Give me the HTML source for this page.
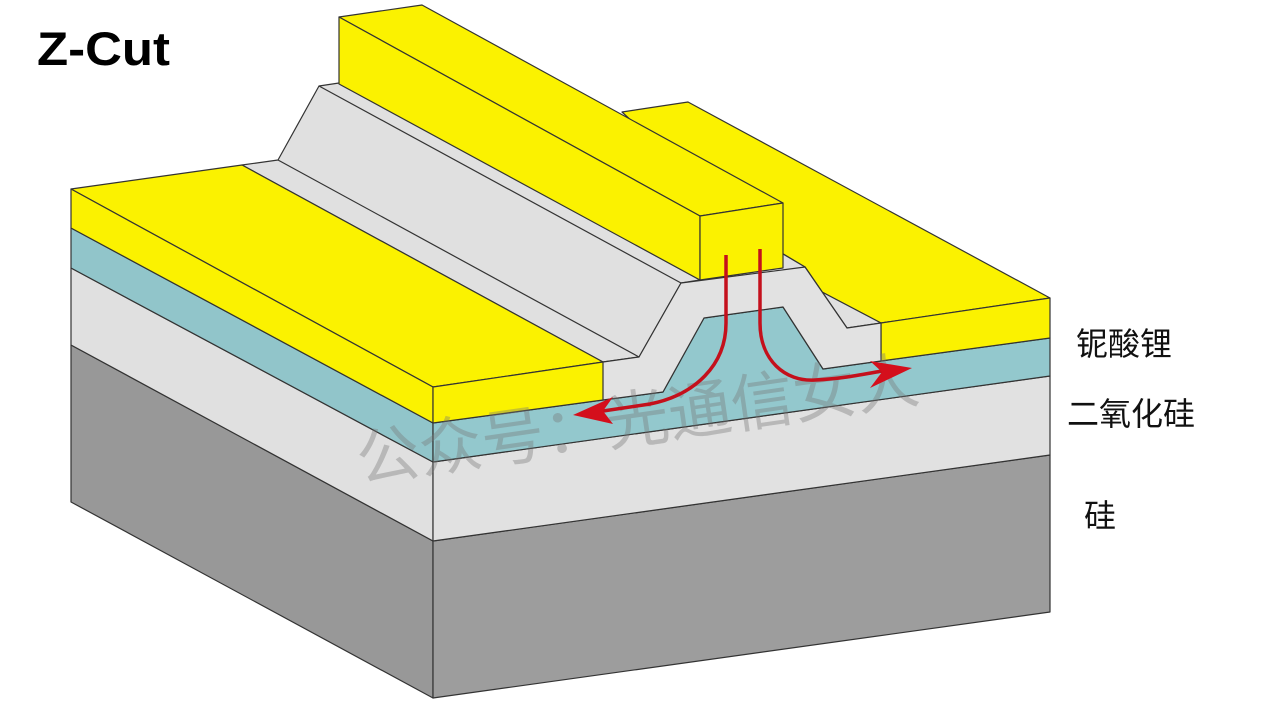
<!DOCTYPE html>
<html><head><meta charset="utf-8"><style>
html,body{margin:0;padding:0;background:#fff}
svg{display:block}
.z{font-family:"Liberation Sans",sans-serif;font-weight:700}
.c{font-family:"Liberation Sans","Noto Sans CJK SC",sans-serif}
</style></head><body>
<svg width="1268" height="714" viewBox="0 0 1268 714" xmlns="http://www.w3.org/2000/svg">
<rect width="1268" height="714" fill="#fff"/>
<g stroke="#333" stroke-width="1.2" stroke-linejoin="round">
<!-- silicon -->
<polygon points="71,345 433,541 433,698 71,502" fill="#989898"/>
<polygon points="433,541 1050,455 1050,612 433,698" fill="#9d9d9d"/>
<!-- oxide -->
<polygon points="71,268 433,462 433,541 71,345" fill="#e0e0e0"/>
<polygon points="433,462 1050,376 1050,455 433,541" fill="#e1e1e1"/>
<!-- LN teal -->
<polygon points="71,228 433,423 433,462 71,268" fill="#91c5ca"/>
<polygon points="433,423 603,400 663,392 704,318 783,307 823,369 881,361 1050,338 1050,376 433,462" fill="#93c8cd"/>
<!-- right yellow -->
<polygon points="622,112 688,102 1050,298 881,323 822,292 805,267 760,240" fill="#fbf200"/>
<polygon points="881,323 1050,298 1050,338 881,361" fill="#fbf200"/>
<!-- grey ridge -->
<polygon points="805,267 822,292 881,323 847,328" fill="#e0e0e0"/>
<polygon points="783,254 805,267 783,280" fill="#e0e0e0" stroke="none"/>
<polyline points="783,254 805,267" fill="none"/>
<polygon points="242,165 278,160 319,86 339,83 700,280 681,283 639,357 603,362" fill="#e0e0e0"/>
<polygon points="603,362 639,357 681,283 805,267 847,328 881,323 881,361 823,369 783,307 704,318 663,392 603,400" fill="#e2e2e2" stroke="none"/>
<polyline points="603,362 639,357 681,283 805,267 847,328 881,323" fill="none"/>
<polyline points="278,160 639,357" fill="none"/>
<polyline points="319,86 681,283" fill="none"/>
<polyline points="881,323 881,361" fill="none"/>
<polyline points="603,400 663,392 704,318 783,307 823,369 881,361" fill="none"/>
<!-- left yellow -->
<polygon points="71,189 242,165 603,362 433,387" fill="#fbf200"/>
<polygon points="71,189 433,387 433,423 71,228" fill="#fbf200"/>
<polygon points="433,387 603,362 603,400 433,423" fill="#fbf200"/>
<!-- centre electrode -->
<polygon points="339,17 422,5 783,203 700,216" fill="#fbf200"/>
<polygon points="339,17 700,216 700,280 339,84" fill="#fbf200"/>
<polygon points="700,216 783,203 783,268 700,280" fill="#fbf200"/>
</g>
<!-- watermark -->
<text class="c" transform="translate(360,482) rotate(-8.2)" font-size="63" font-weight="400" fill="#777" fill-opacity=".38">公众号：光通信女人</text>
<!-- arrows -->
<g fill="none" stroke="#c4101c" stroke-width="3.5">
<path d="M726,255 V323 C726,365 695,395 650,404 L603,411"/>
<path d="M760,249 V323 C760,360 785,382 815,380 C840,379 860,375 882,371"/>
</g>
<polygon points="573,415 613,397 603,411 613,424" fill="#d40f1c"/>
<polygon points="912,368 870,361 882,372 870,388" fill="#d40f1c"/>
<!-- text -->
<text class="z" x="37" y="65" font-size="47" textLength="133" lengthAdjust="spacingAndGlyphs">Z-Cut</text>
<text class="c" x="1076" y="355" font-size="32" fill="#111">铌酸锂</text>
<text class="c" x="1067" y="425" font-size="32" fill="#111">二氧化硅</text>
<text class="c" x="1084" y="527" font-size="32" fill="#111">硅</text>
</svg>
</body></html>
